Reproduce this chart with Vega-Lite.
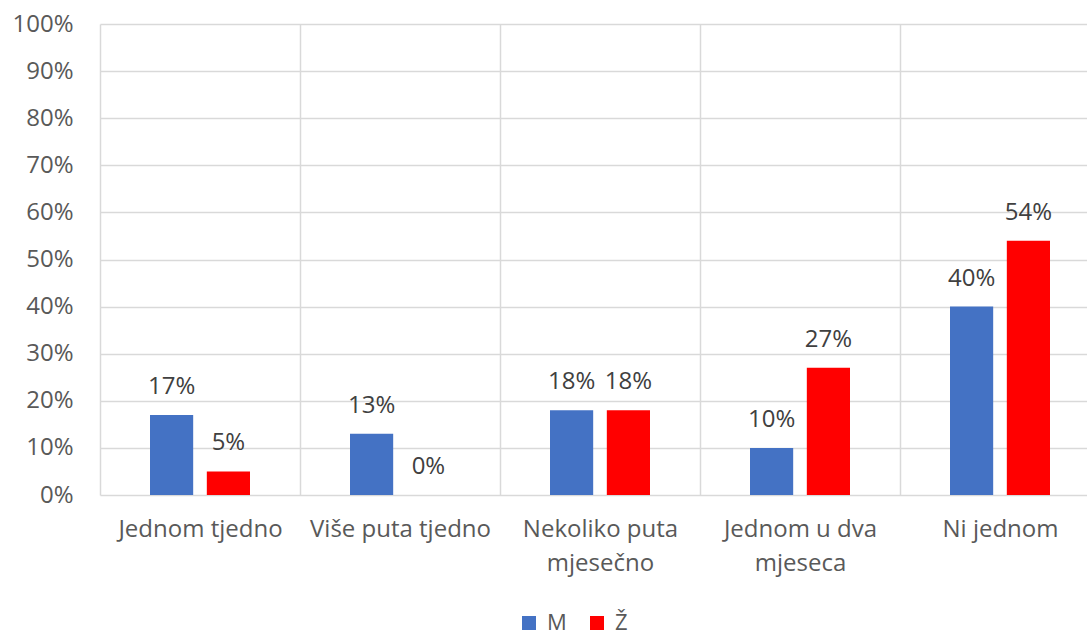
{
  "$schema": "https://vega.github.io/schema/vega-lite/v6.json",
  "width": 1000,
  "height": 471,
  "autosize": {"type": "none"},
  "padding": {"left": 100, "top": 24, "right": 0, "bottom": 146},
  "background": "white",
  "config": {
    "font": "Open Sans",
    "view": {"stroke": null},
    "axis": {"gridColor": "#d9d9d9", "gridWidth": 1.5, "domainColor": "#d9d9d9", "domainWidth": 1.5, "labelColor": "#595959", "labelFontSize": 24, "ticks": false, "labelLimit": 0}
  },
  "data": {
    "values": [
      {"kategorija": "Jednom tjedno", "spol": "M", "udio": 0.17},
      {"kategorija": "Jednom tjedno", "spol": "Ž", "udio": 0.05},
      {"kategorija": "Više puta tjedno", "spol": "M", "udio": 0.13},
      {"kategorija": "Više puta tjedno", "spol": "Ž", "udio": 0.0},
      {"kategorija": "Nekoliko puta mjesečno", "spol": "M", "udio": 0.18},
      {"kategorija": "Nekoliko puta mjesečno", "spol": "Ž", "udio": 0.18},
      {"kategorija": "Jednom u dva mjeseca", "spol": "M", "udio": 0.10},
      {"kategorija": "Jednom u dva mjeseca", "spol": "Ž", "udio": 0.27},
      {"kategorija": "Ni jednom", "spol": "M", "udio": 0.40},
      {"kategorija": "Ni jednom", "spol": "Ž", "udio": 0.54}
    ]
  },
  "encoding": {
    "x": {
      "field": "kategorija",
      "type": "nominal",
      "sort": ["Jednom tjedno", "Više puta tjedno", "Nekoliko puta mjesečno", "Jednom u dva mjeseca", "Ni jednom"],
      "scale": {"paddingInner": 0, "paddingOuter": 0},
      "axis": {
        "title": null,
        "labelAngle": 0,
        "grid": true,
        "tickBand": "extent",
        "domain": false,
        "labelPadding": 22,
        "labelLineHeight": 34,
        "labelLimit": 0,
        "labelExpr": "datum.label == 'Nekoliko puta mjesečno' ? ['Nekoliko puta', 'mjesečno'] : datum.label == 'Jednom u dva mjeseca' ? ['Jednom u dva', 'mjeseca'] : datum.label"
      }
    },
    "xOffset": {
      "field": "spol",
      "type": "nominal",
      "scale": {"paddingInner": 0.24, "paddingOuter": 0.88}
    },
    "y": {
      "field": "udio",
      "type": "quantitative",
      "scale": {"domain": [0, 1]},
      "axis": {
        "title": null,
        "format": ".0%",
        "values": [0, 0.1, 0.2, 0.3, 0.4, 0.5, 0.6, 0.7, 0.8, 0.9, 1],
        "domain": false,
        "labelPadding": 27
      }
    }
  },
  "layer": [
    {
      "mark": {"type": "bar"},
      "encoding": {
        "color": {
          "field": "spol",
          "type": "nominal",
          "scale": {"domain": ["M", "Ž"], "range": ["#4472C4", "#FF0000"]},
          "legend": {
            "title": null,
            "orient": "none",
            "legendX": 418,
            "legendY": 588,
            "direction": "horizontal",
            "symbolType": "square",
            "symbolSize": 196,
            "symbolStrokeWidth": 0,
            "labelFontSize": 22,
            "labelColor": "#595959",
            "labelOffset": 7,
            "columnPadding": 19
          }
        }
      }
    },
    {
      "mark": {"type": "text", "baseline": "alphabetic", "dy": -21, "fontSize": 24, "color": "#404040"},
      "encoding": {
        "text": {"field": "udio", "type": "quantitative", "format": ".0%"}
      }
    }
  ]
}
